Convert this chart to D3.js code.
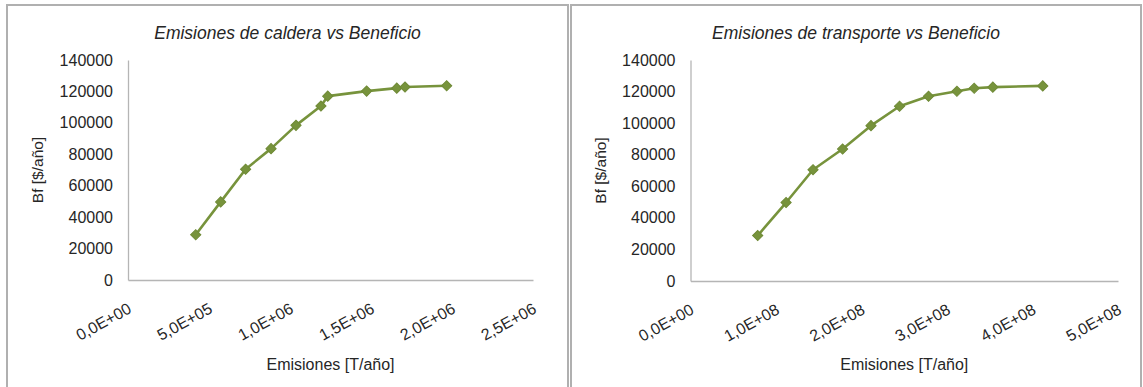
<!DOCTYPE html>
<html>
<head>
<meta charset="utf-8">
<script src="https://cdn.jsdelivr.net/npm/d3@7"></script>
<style>
  html, body { margin: 0; padding: 0; background: #fff; }
  svg { display: block; font-family: "Liberation Sans", Arial, sans-serif; }
</style>
</head>
<body>
<svg id="chart" width="1143" height="387"></svg>
<script>
// ---- Data ----
const benefit = [28800, 49700, 70500, 83600, 98400, 110700, 117000, 120200, 122100, 122800, 123600];
const calderaEmissions = [418000, 572000, 726000, 883000, 1037000, 1191000, 1233000, 1473000, 1659000, 1710000, 1967000];
const transporteEmissions = [7.86e7, 1.118e8, 1.433e8, 1.779e8, 2.111e8, 2.445e8, 2.784e8, 3.116e8, 3.318e8, 3.536e8, 4.12e8];

const yTicks = [0, 20000, 40000, 60000, 80000, 100000, 120000, 140000];
const yTickLabels = ["0", "20000", "40000", "60000", "80000", "100000", "120000", "140000"];

const calderaXTicks = [0, 5e5, 1e6, 1.5e6, 2e6, 2.5e6];
const calderaXTickLabels = ["0,0E+00", "5,0E+05", "1,0E+06", "1,5E+06", "2,0E+06", "2,5E+06"];
const transporteXTicks = [0, 1e8, 2e8, 3e8, 4e8, 5e8];
const transporteXTickLabels = ["0,0E+00", "1,0E+08", "2,0E+08", "3,0E+08", "4,0E+08", "5,0E+08"];

const titles = ["Emisiones de caldera vs Beneficio", "Emisiones de transporte vs Beneficio"];
const xAxisTitle = "Emisiones [T/año]";
const yAxisTitle = "Bf [$/año]";

// ---- Drawing ----
const svg = d3.select("#chart");
const green = "#77933C";
const textColor = "#262626";
const axisColor = "#b5b5b5";

function drawPanel(cfg) {
  const g = svg.append("g");
  // panel border
  g.append("rect")
    .attr("x", cfg.box[0]).attr("y", cfg.box[1])
    .attr("width", cfg.box[2]).attr("height", cfg.box[3])
    .attr("fill", "#fff").attr("stroke", "#b0b0b0").attr("stroke-width", 2);

  const x = d3.scaleLinear().domain([cfg.xTicks[0], cfg.xTicks[cfg.xTicks.length - 1]]).range([cfg.plot.left, cfg.plot.right]);
  const y = d3.scaleLinear().domain([yTicks[0], yTicks[yTicks.length - 1]]).range([cfg.plot.bottom, cfg.plot.top]);

  // title
  g.append("text")
    .attr("x", cfg.box[0] + cfg.box[2] / 2).attr("y", 39)
    .attr("text-anchor", "middle")
    .attr("font-style", "italic").attr("font-size", "17.5px")
    .attr("fill", textColor)
    .text(cfg.title);

  // y axis
  const yAxis = d3.axisLeft(y).tickValues(yTicks)
    .tickFormat((d, i) => yTickLabels[i]).tickSize(0).tickPadding(15);
  const yg = g.append("g").attr("transform", `translate(${cfg.plot.left},0)`).call(yAxis);
  yg.select(".domain").attr("stroke", axisColor).attr("stroke-width", 1.3);
  yg.selectAll("text").attr("font-size", "16px").attr("fill", textColor)
    .attr("font-family", "Liberation Sans, Arial, sans-serif");

  // x axis
  const xAxis = d3.axisBottom(x).tickValues(cfg.xTicks)
    .tickFormat((d, i) => cfg.xTickLabels[i]).tickSize(0);
  const xg = g.append("g").attr("transform", `translate(0,${cfg.plot.bottom})`).call(xAxis);
  xg.select(".domain").attr("stroke", axisColor).attr("stroke-width", 1.3);
  xg.selectAll("text")
    .attr("font-size", "16px").attr("fill", textColor)
    .attr("font-family", "Liberation Sans, Arial, sans-serif")
    .attr("text-anchor", "end")
    .attr("dy", null).attr("y", null)
    .attr("transform", "translate(4,32) rotate(-29)");

  // axis titles
  g.append("text")
    .attr("x", (cfg.plot.left + cfg.plot.right) / 2).attr("y", 370)
    .attr("text-anchor", "middle").attr("font-size", "16px").attr("fill", textColor)
    .text(xAxisTitle);
  g.append("text")
    .attr("transform", `translate(${cfg.plot.left - 85},${(cfg.plot.top + cfg.plot.bottom) / 2}) rotate(-90)`)
    .attr("text-anchor", "middle").attr("font-size", "15.5px").attr("fill", textColor)
    .text(yAxisTitle);

  // series
  const pts = cfg.xValues.map((v, i) => [v, benefit[i]]);
  const line = d3.line().x(d => x(d[0])).y(d => y(d[1]));
  g.append("path").datum(pts)
    .attr("d", line).attr("fill", "none")
    .attr("stroke", green).attr("stroke-width", 2.6).attr("stroke-linejoin", "round");
  const sym = d3.symbol().type(d3.symbolSquare).size(52);
  g.selectAll("path.marker").data(pts).enter().append("path")
    .attr("class", "marker")
    .attr("d", sym)
    .attr("transform", d => `translate(${x(d[0])},${y(d[1])}) rotate(45)`)
    .attr("fill", green).attr("stroke", "#6f8a36").attr("stroke-width", 1);
}

drawPanel({
  box: [7, 5, 561, 400],
  plot: { left: 128, right: 533, top: 60, bottom: 280 },
  title: titles[0],
  xTicks: calderaXTicks,
  xTickLabels: calderaXTickLabels,
  xValues: calderaEmissions
});

drawPanel({
  box: [571, 5, 570, 400],
  plot: { left: 690.5, right: 1118, top: 60, bottom: 281 },
  title: titles[1],
  xTicks: transporteXTicks,
  xTickLabels: transporteXTickLabels,
  xValues: transporteEmissions
});
</script>
</body>
</html>
